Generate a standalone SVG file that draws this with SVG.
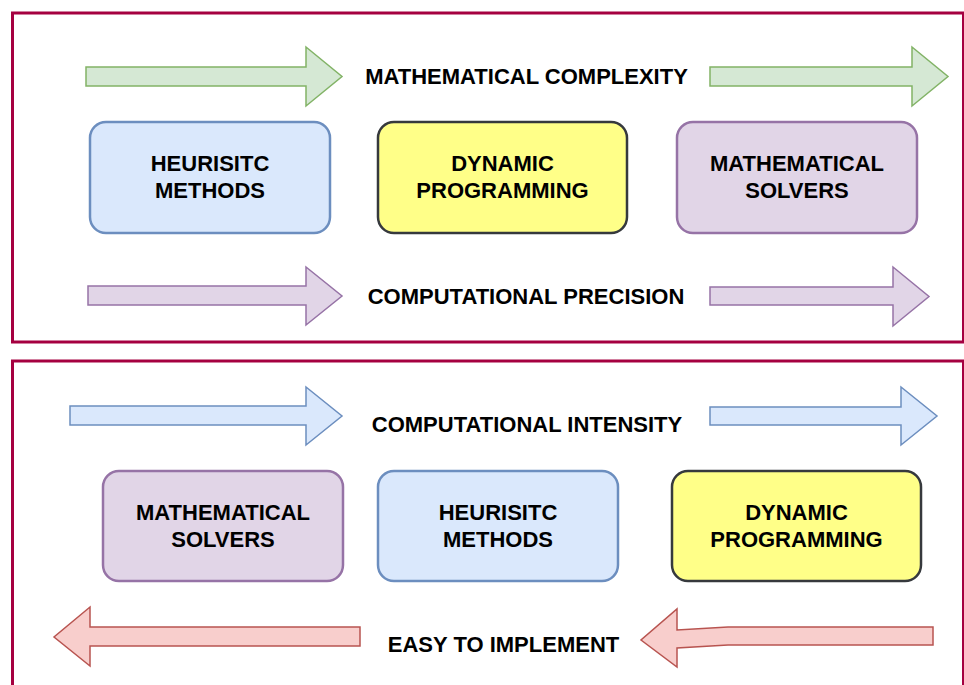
<svg xmlns="http://www.w3.org/2000/svg" width="964" height="685" viewBox="0 0 964 685">
<style>
.frame{fill:none;stroke:#A50040;stroke-width:3}
.t{font-family:"Liberation Sans",Arial,sans-serif;font-weight:bold;font-size:22px;fill:#000;text-anchor:middle}
.blue{fill:#DAE8FC;stroke:#6C8EBF}
.yellow{fill:#FFFF88;stroke:#36393D}
.purple{fill:#E1D5E7;stroke:#9673A6}
.green{fill:#D5E8D4;stroke:#82B366}
.red{fill:#F8CECC;stroke:#B85450}
.box{stroke-width:2.5}
.arr{stroke-width:1.5;stroke-linejoin:miter}
</style>
<rect width="964" height="685" fill="#fff"/>
<g id="frames">
<rect class="frame" x="12.5" y="13" width="951" height="329"/>
<rect class="frame" x="12.5" y="361" width="951" height="340"/>
</g>
<g id="connectors">
<polygon class="green arr" points="86,67 306,67 306,47 342,76.5 306,106 306,86 86,86"/>
<polygon class="green arr" points="710,67 912,67 912,47 948,76.5 912,106 912,86 710,86"/>
<polygon class="purple arr" points="88,286 306,286 306,267 342,296 306,325 306,305 88,305"/>
<polygon class="purple arr" points="710,287 893,287 893,267 929,296.5 893,326 893,305 710,305"/>
<polygon class="blue arr" points="70,406 306,406 306,387 342,416 306,445 306,425 70,425"/>
<polygon class="blue arr" points="710,407 901,407 901,387 937,416 901,445 901,425 710,425"/>
<polygon class="red arr" points="360,627 90,627 90,607 54,637 90,666 90,646 360,646"/>
<polygon class="red arr" points="933,627 728,627 677,630 677,609 641,640 677,667 677,648 728,645 933,645"/>
</g>
<g id="label-math-complexity"><text class="t" x="526.5" y="84">MATHEMATICAL COMPLEXITY</text></g>
<g id="label-comp-precision"><text class="t" x="526" y="303.5">COMPUTATIONAL PRECISION</text></g>
<g id="label-comp-intensity"><text class="t" x="527" y="432">COMPUTATIONAL INTENSITY</text></g>
<g id="label-easy"><text class="t" x="503.5" y="652">EASY TO IMPLEMENT</text></g>
<g id="top-heuristic">
<rect class="blue box" x="90" y="122" width="240" height="111" rx="16"/>
<text class="t" x="210" y="171">HEURISITC</text>
<text class="t" x="210" y="198">METHODS</text>
</g>
<g id="top-dynamic">
<rect class="yellow box" x="378" y="122" width="249" height="111" rx="16"/>
<text class="t" x="502.5" y="171">DYNAMIC</text>
<text class="t" x="502.5" y="198">PROGRAMMING</text>
</g>
<g id="top-solvers">
<rect class="purple box" x="677" y="122" width="240" height="111" rx="16"/>
<text class="t" x="797" y="171">MATHEMATICAL</text>
<text class="t" x="797" y="198">SOLVERS</text>
</g>
<g id="bottom-solvers">
<rect class="purple box" x="103" y="471" width="240" height="110" rx="16"/>
<text class="t" x="223" y="520">MATHEMATICAL</text>
<text class="t" x="223" y="547">SOLVERS</text>
</g>
<g id="bottom-heuristic">
<rect class="blue box" x="378" y="471" width="240" height="110" rx="16"/>
<text class="t" x="498" y="520">HEURISITC</text>
<text class="t" x="498" y="547">METHODS</text>
</g>
<g id="bottom-dynamic">
<rect class="yellow box" x="672" y="471" width="249" height="110" rx="16"/>
<text class="t" x="796.5" y="520">DYNAMIC</text>
<text class="t" x="796.5" y="547">PROGRAMMING</text>
</g>
</svg>
